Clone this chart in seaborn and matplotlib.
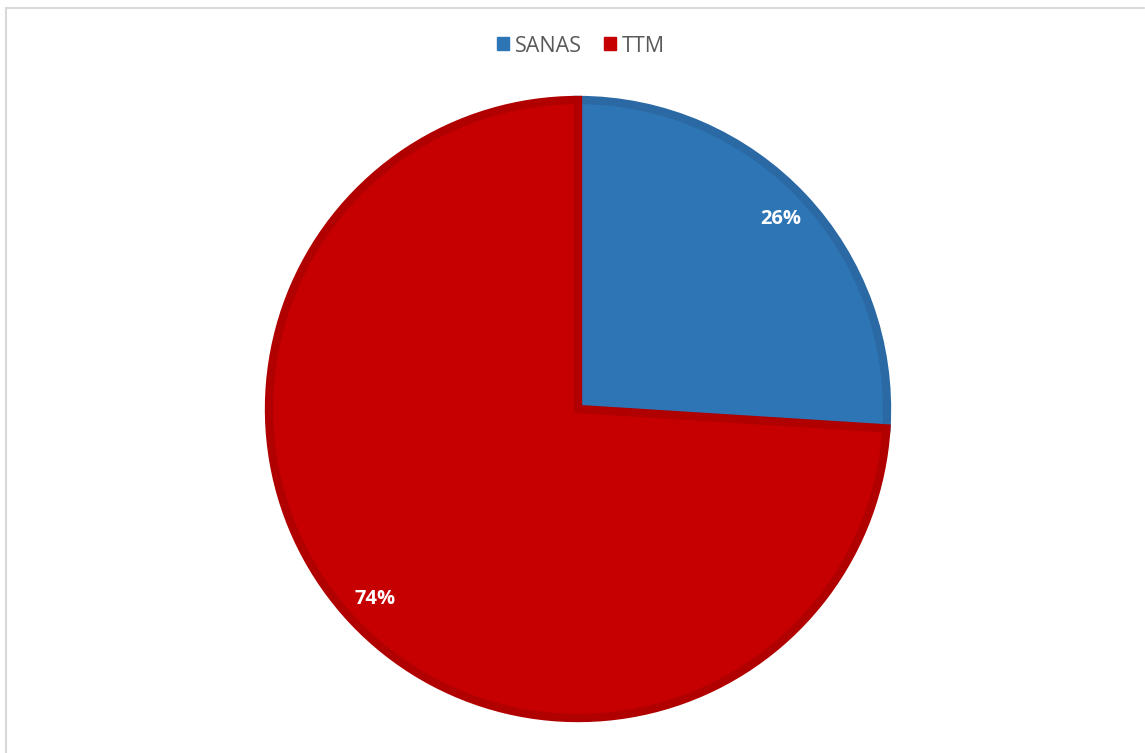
import matplotlib
matplotlib.use("Agg")
import matplotlib.pyplot as plt
from matplotlib.lines import Line2D
from matplotlib.patches import Patch
import seaborn as sns

# data
labels = ["SANAS", "TTM"]
shares = [26, 74]
fills = ["#2E75B6", "#C60000"]
edges = ["#2A69A4", "#B00000"]

sns.set_theme(style="white")
plt.rcParams["font.family"] = ["Open Sans", "DejaVu Sans"]

W, H = 1145, 753
fig = plt.figure(figsize=(W / 100, H / 100), dpi=100)
fig.patch.set_facecolor("white")

# pie centre ~ (578, 409) px from top-left, radius ~309 px
cx, cy, r = 578, 409, 309
ax = fig.add_axes([(cx - r) / W, (H - cy - r) / H, 2 * r / W, 2 * r / H])

wedges, _, autotexts = ax.pie(
    shares,
    colors=fills,
    startangle=90,
    counterclock=False,
    autopct="%1.0f%%",
    pctdistance=0.9,
    wedgeprops={"linewidth": 6, "joinstyle": "miter"},
    textprops={"color": "white", "fontsize": 14.5, "fontweight": "bold"},
)
for w, ec in zip(wedges, edges):
    w.set_edgecolor(ec)
    w.set_clip_on(False)
ax.set_xlim(-1, 1)
ax.set_ylim(-1, 1)
ax.set_aspect("equal")
ax.axis("off")

handles = [Patch(facecolor=c, edgecolor=c) for c in fills]
fig.legend(
    handles, labels,
    loc="center", bbox_to_anchor=(581 / W, 1 - 46 / H),
    ncol=2, frameon=False, fontsize=15.5,
    handlelength=0.55, handleheight=0.55, handletextpad=0.3, columnspacing=1.0,
    labelcolor="#595959",
)

# light chart border (top and left visible)
fig.add_artist(Line2D([5.5 / W, 5.5 / W], [0, 1 - 8 / H], color="#D9D9D9", lw=1.5))
fig.add_artist(Line2D([5.5 / W, 1144 / W], [1 - 8 / H, 1 - 8 / H], color="#D9D9D9", lw=1.5))

fig.savefig("out.png", dpi=100, facecolor="white")
